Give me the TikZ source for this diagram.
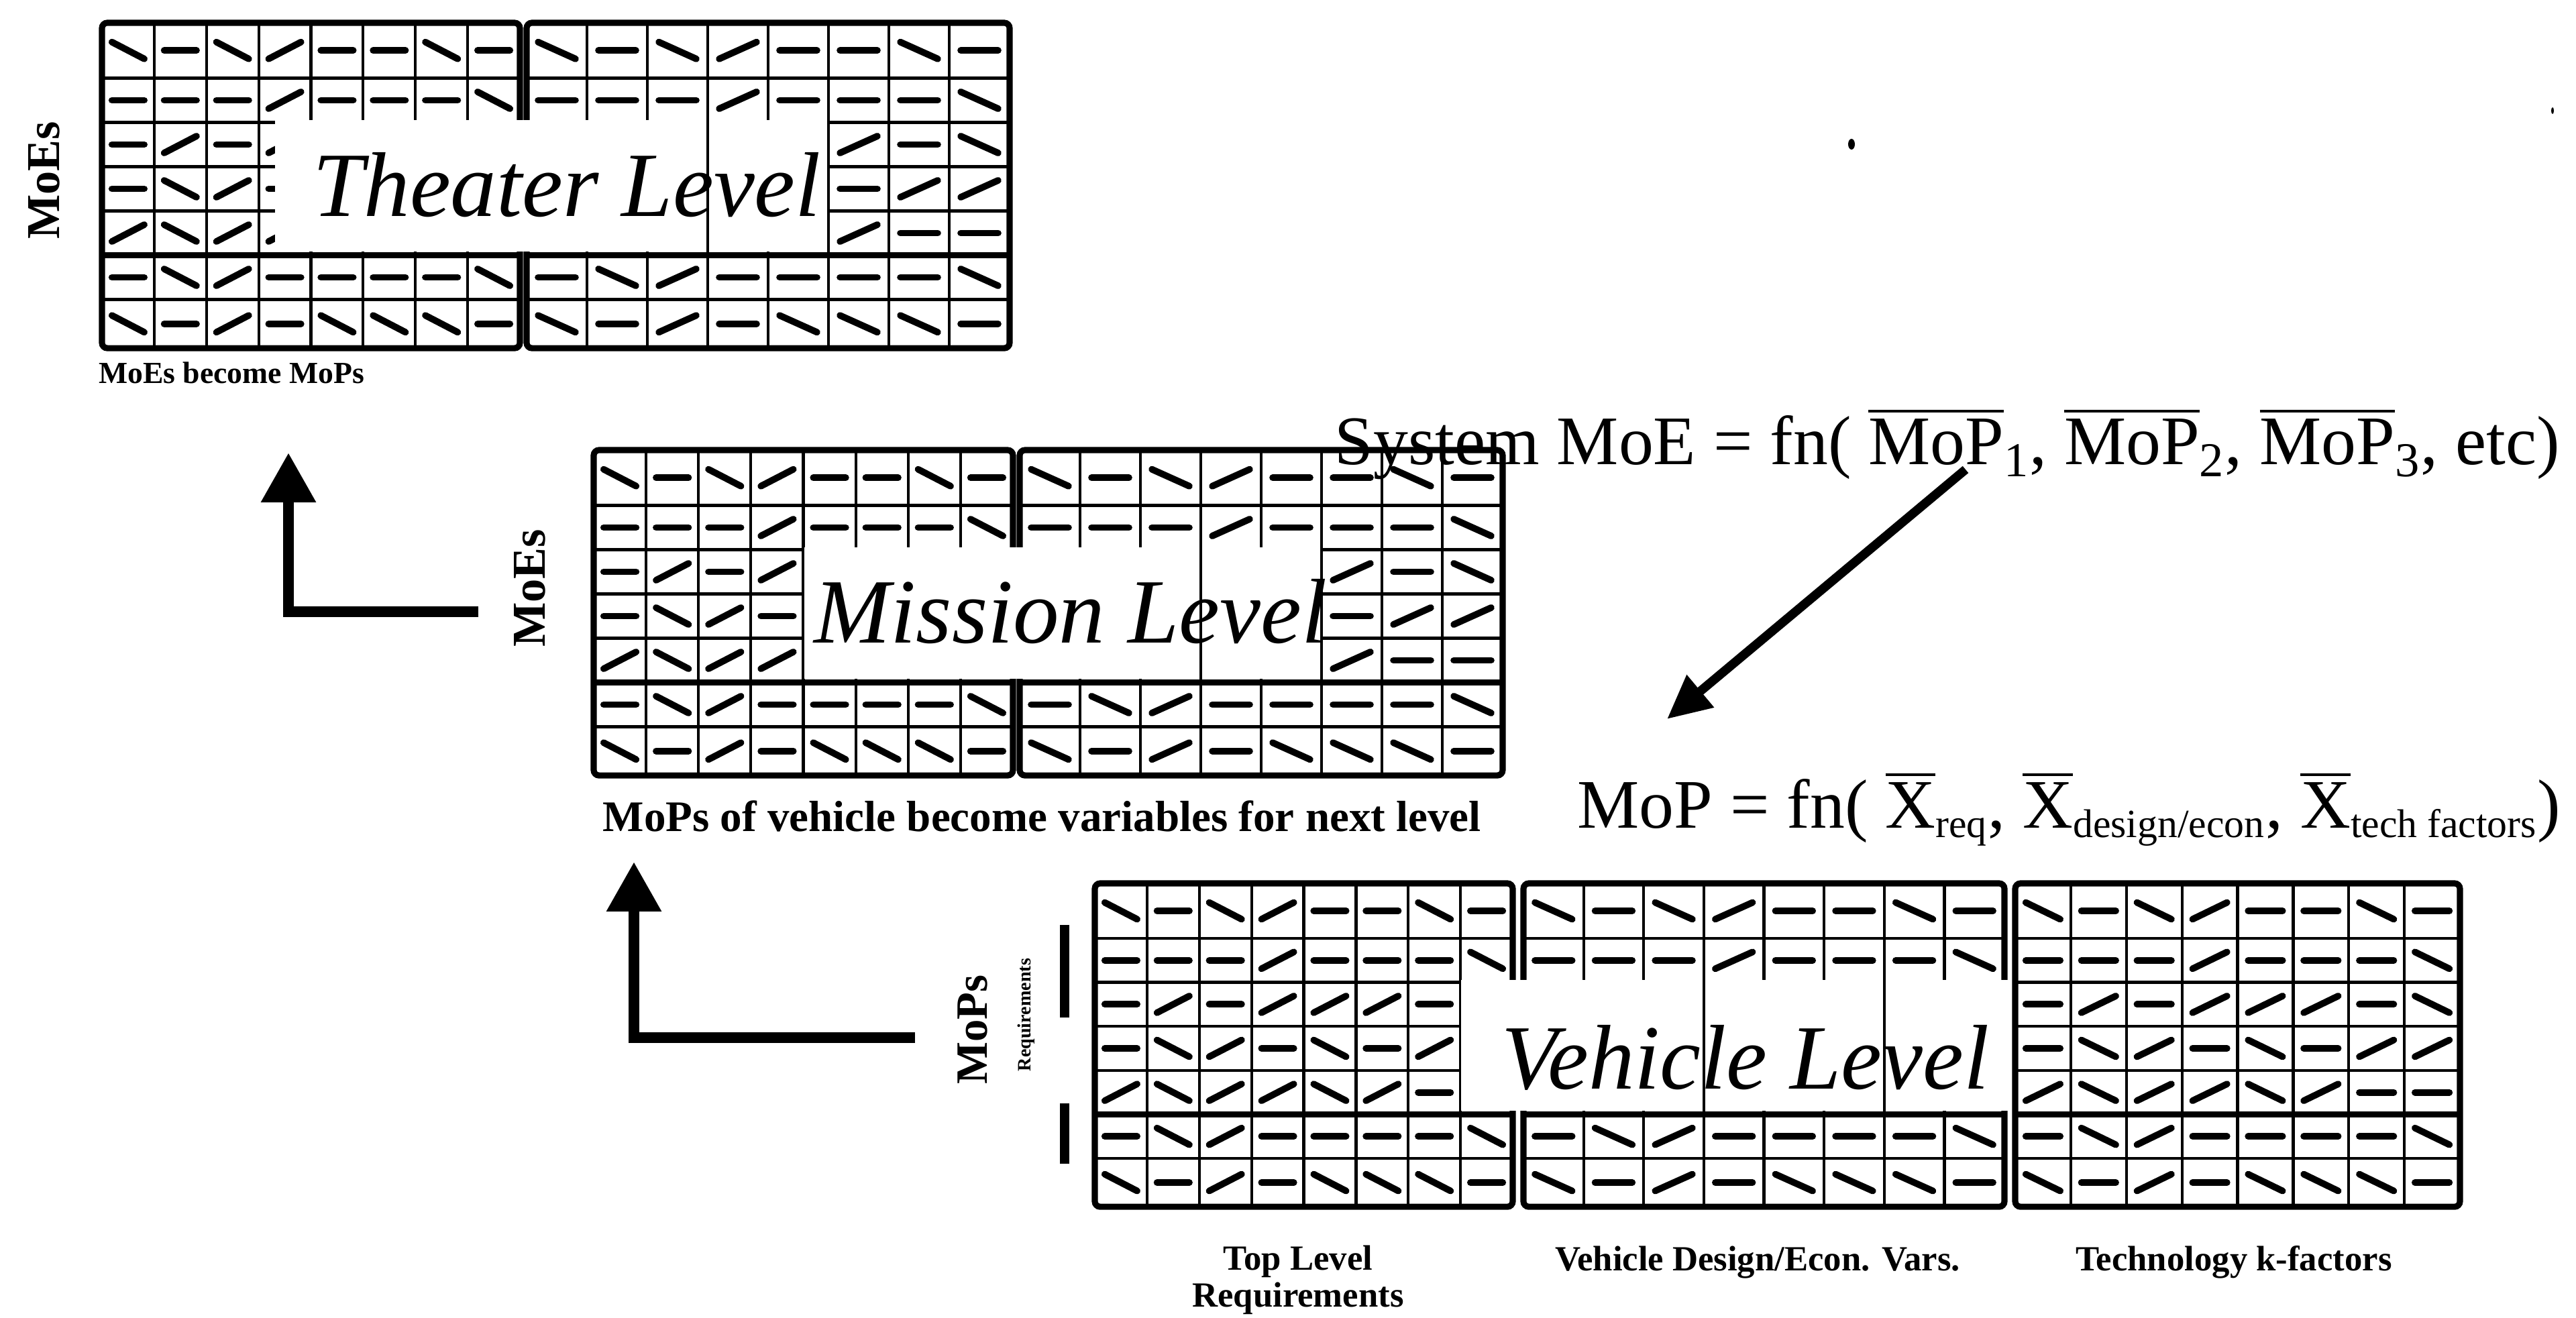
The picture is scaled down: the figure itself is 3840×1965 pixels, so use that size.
\documentclass[tikz,border=0pt]{standalone}
\usepackage{amsmath}
\usepackage{fontspec}
\setmainfont{Liberation Serif}
\usetikzlibrary{arrows.meta}

\tikzstyle{cellline} = [line width=1.2pt]
\tikzstyle{boxline} = [line width=2.6pt]
\tikzstyle{tick} = [line width=2.8pt, line cap=round]
\tikzstyle{blank} = [fill=white]
\tikzstyle{levelname} = [inner sep=0pt, font=\fontsize{39}{39}\selectfont\itshape]
\tikzstyle{sidelabel} = [inner sep=0pt, rotate=90, font=\fontsize{20}{20}\selectfont\bfseries]
\tikzstyle{caption} = [inner sep=0pt, align=center, font=\fontsize{15}{15.6}\selectfont\bfseries]
\tikzstyle{formula} = [inner sep=0pt, font=\fontsize{29.5}{30}\selectfont]
\tikzstyle{arrow} = [line width=4.6pt, -{Triangle[length=7.4mm, width=7.8mm]}]
\tikzstyle{bar} = [line width=4pt]

% middle of each of the 7 rows, in row units
\def\rowmid{{0.625,1.75,2.75,3.75,4.75,5.75,6.8}}
% small subscript text of the formulas
\newcommand{\sub}[1]{\text{\fontsize{17}{17}\selectfont #1}}

% one block of 8 x 7 cells: x0, y0, width, row unit
\newcommand{\levelblock}[4]{%
  \pgfmathsetmacro{\cw}{#3/8}
  \foreach \col in {1,...,7}
    \draw[cellline] ({#1+\col*\cw},#2) -- ({#1+\col*\cw},{#2+7.35*#4});
  \foreach \hy in {1.25,2.25,3.25,4.25,6.25}
    \draw[cellline] (#1,{#2+\hy*#4}) -- ({#1+#3},{#2+\hy*#4});
  \draw[boxline] (#1,{#2+5.25*#4}) -- ({#1+#3},{#2+5.25*#4});
  \draw[boxline, rounded corners=0.8mm] (#1,#2) rectangle ({#1+#3},{#2+7.35*#4});
  \foreach \pattrow [count=\rw] in {{2,0,2,1,0,0,2,0},{0,0,0,1,0,0,0,2},{0,1,0,1,1,1,0,2},{0,2,1,0,2,0,1,1},{1,2,1,1,2,1,0,0},{0,2,1,0,0,0,0,2},{2,0,1,0,2,2,2,0}}
    \foreach \kind [count=\col] in \pattrow {
      \pgfmathsetmacro{\yc}{#2+#4*\rowmid[\rw-1]}
      \pgfmathsetmacro{\xc}{#1+(\col-0.5)*\cw}
      \pgfmathsetmacro{\sy}{\kind==0 ? 0 : (\kind==1 ? -1 : 1)}
      \draw[tick] ({\xc-0.31*\cw},{\yc-\sy*0.19*#4}) -- ({\xc+0.31*\cw},{\yc+\sy*0.19*#4});
    }
}

\begin{document}
\begin{tikzpicture}[x=0.1mm, y=-0.1mm]
      \useasboundingbox (0,0) rectangle (3840,1965);
      % Theater level
      \levelblock{152}{34}{623}{66}
      \levelblock{785}{34}{720}{66}
      \fill[blank] (410,179) rectangle (1233,375);
      \draw[cellline] (1055,179) -- (1055,375);
      \node[levelname, anchor=base] (theater) at (845,323) {Theater Level};
      \node[sidelabel] (moe_theater) at (66,269) {MoEs};
      \node[caption, font=\fontsize{13}{13}\selectfont\bfseries] (theater_cap) at (345,556) {MoEs become MoPs};
      % Mission level
      \levelblock{885}{671}{625}{66}
      \levelblock{1520}{671}{720}{66}
      \fill[blank] (1199,816) rectangle (1968,1012);
      \draw[cellline] (1790,816) -- (1790,1012);
      \node[levelname, anchor=base] (mission) at (1596,959) {Mission Level};
      \node[sidelabel] (moe_mission) at (790,877) {MoEs};
      \node[caption, anchor=base west, font=\fontsize{18.5}{18.5}\selectfont\bfseries] (mission_cap) at (898,1240) {MoPs of vehicle become variables for next level};
      % Vehicle level
      \levelblock{1632}{1317}{623}{65.6}
      \levelblock{2271}{1317}{717}{65.6}
      \levelblock{3004}{1317}{663}{65.6}
      \fill[blank] (2178,1461) rectangle (2996,1656);
      \draw[cellline] (2540,1461) -- (2540,1656);
      \draw[cellline] (2809,1461) -- (2809,1656);
      \node[levelname, anchor=base] (vehicle) at (2602,1624) {Vehicle Level};
      \node[sidelabel, font=\fontsize{19}{19}\selectfont\bfseries] (mop_vehicle) at (1450,1535) {MoPs};
      \node[sidelabel, font=\fontsize{8}{8}\selectfont\bfseries] (req_vehicle) at (1530,1513) {Requirements};
      \draw[bar] (1587,1379) -- (1587,1517);
      \draw[bar] (1587,1645) -- (1587,1735);
      \node[caption, anchor=base] (top_cap) at (1935,1948) {Top Level\\Requirements};
      \node[caption, anchor=base] (design_cap) at (2620,1894) {Vehicle Design/Econ. Vars.};
      \node[caption, anchor=base] (tech_cap) at (3330,1894) {Technology k-factors};
      % Formulas
      \node[formula, anchor=base west] (system_moe) at (1989,693) {System MoE = fn( $\overline{\text{MoP}}_{\text{1}}$, $\overline{\text{MoP}}_{\text{2}}$, $\overline{\text{MoP}}_{\text{3}}$, etc)};
      \node[formula, anchor=base west] (vehicle_mop) at (2351,1235) {MoP = fn( $\overline{\text{X}}_{\sub{req}}$, $\overline{\text{X}}_{\sub{design/econ}}$, $\overline{\text{X}}_{\sub{tech factors}}$)};
      \fill (2760,215) ellipse (5 and 8);
      \fill (3805,165) ellipse (2 and 5);
      % Arrows
      \coordinate (up1) at (430,675);
      \coordinate (bend1) at (430,912);
      \coordinate (from1) at (713,912);
      \coordinate (up2) at (945,1285);
      \coordinate (bend2) at (945,1547);
      \coordinate (from2) at (1364,1547);
      \coordinate (moe_start) at (2930,700);
      \coordinate (mop_end) at (2485,1072);
      \draw [arrow] (from1) -- (bend1) -- (up1);
      \draw [arrow] (from2) -- (bend2) -- (up2);
      \draw [arrow, line width=3.8pt, -{Triangle[length=6.5mm, width=6mm]}] (moe_start) -- (mop_end);
    \end{tikzpicture}
\end{document}
